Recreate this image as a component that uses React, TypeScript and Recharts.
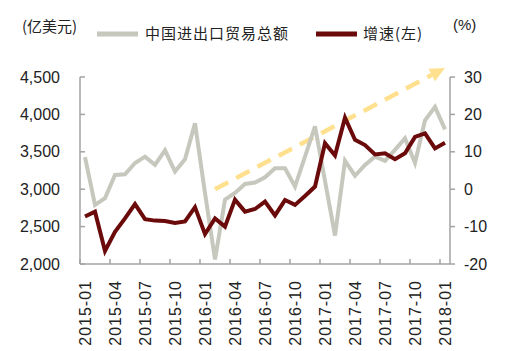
import React from 'react';
import { LineChart, Line, XAxis, YAxis, ReferenceLine } from 'recharts';

const months = [
  '2015-01', '2015-02', '2015-03', '2015-04', '2015-05', '2015-06', '2015-07', '2015-08', '2015-09',
  '2015-10', '2015-11', '2015-12', '2016-01', '2016-02', '2016-03', '2016-04', '2016-05', '2016-06',
  '2016-07', '2016-08', '2016-09', '2016-10', '2016-11', '2016-12', '2017-01', '2017-02', '2017-03',
  '2017-04', '2017-05', '2017-06', '2017-07', '2017-08', '2017-09', '2017-10', '2017-11', '2017-12',
  '2018-01',
];

// 中国进出口贸易总额 (亿美元)
const tradeTotal = [
  3430, 2790, 2880, 3190, 3200, 3350, 3435, 3325, 3520, 3235, 3400, 3880, 2950, 2060, 2860, 2950,
  3070, 3090, 3160, 3280, 3280, 3035, 3435, 3840, 3110, 2380, 3380, 3180, 3325, 3435, 3380, 3525,
  3680, 3350, 3920, 4100, 3800,
];

// 增速 (%)
const growthRate = [
  -7.3, -6.0, -16.5, -11.4, -7.8, -4.0, -8.0, -8.4, -8.5, -9.0, -8.6, -4.8, -12.0, -7.8, -10.0, -2.8,
  -6.0, -5.3, -3.3, -7.0, -2.9, -4.2, -1.8, 0.7, 12.3, 9.0, 19.1, 13.2, 11.8, 9.3, 9.6, 8.0, 9.6,
  14.0, 14.9, 10.9, 12.4,
];

const leftTicks = [2000, 2500, 3000, 3500, 4000, 4500];
const rightTicks = [-20, -10, 0, 10, 20, 30];

// trend arrow annotation
const trendStart = { month: '2016-02', value: 3000 };
const trendEnd = { month: '2018-01', value: 4620 };

const data = months.map((m, i) => ({ month: m, total: tradeTotal[i], growth: growthRate[i] }));

const GREY = '#c6c7bd';
const RED = '#6b0a0a';
const TREND = '#ffe08e';
const AXIS = '#a3a3a3';
const NUM_FONT = '"Liberation Sans", Arial, sans-serif';
const CJK_FONT = '"Noto Sans CJK SC", sans-serif';

const fmt = (v: number) => v.toLocaleString('en-US');

const LeftTick = ({ x, y, payload }: any) => (
  <g>
    <line x1={x} x2={x + 5} y1={y} y2={y} stroke={AXIS} strokeWidth={1.5} />
    <text x={x - 20} y={y} dy="0.35em" textAnchor="end" fontSize={16} fill="#222" fontFamily={NUM_FONT}>
      {fmt(payload.value)}
    </text>
  </g>
);

const RightTick = ({ x, y, payload }: any) => (
  <g>
    <line x1={x} x2={x + 5} y1={y} y2={y} stroke={AXIS} strokeWidth={1.5} />
    <text x={x + 14} y={y} dy="0.35em" textAnchor="start" fontSize={16} fill="#222" fontFamily={NUM_FONT}>
      {payload.value}
    </text>
  </g>
);

const MonthTick = ({ x, y, payload }: any) => (
  <g>
    <line x1={x - 5} x2={x - 5} y1={y} y2={y - 5} stroke={AXIS} strokeWidth={1.5} />
    <text
      transform={`translate(${x},${y + 16}) rotate(-90)`}
      textAnchor="end"
      dy="0.35em"
      fontSize={16}
      letterSpacing={1}
      fill="#222"
      fontFamily={NUM_FONT}
    >
      {payload.value}
    </text>
  </g>
);

const TrendArrow = (props: any) => {
  const { x1, y1, x2, y2 } = props;
  const ang = Math.atan2(y2 - y1, x2 - x1);
  const head = 15;
  const bx = x2 - head * Math.cos(ang);
  const by = y2 - head * Math.sin(ang);
  const px = -Math.sin(ang) * 7;
  const py = Math.cos(ang) * 7;
  return (
    <g>
      <line x1={x1} y1={y1} x2={bx} y2={by} stroke={TREND} strokeWidth={4.5} strokeDasharray="15 9" />
      <polygon points={`${x2},${y2} ${bx + px},${by + py} ${bx - px},${by - py}`} fill={TREND} />
    </g>
  );
};

const Header = () => (
  <svg width={508} height={60} style={{ position: 'absolute', left: 0, top: 0, pointerEvents: 'none' }}>
    <text x={22} y={27} dy="0.35em" fontSize={15} fill="#222" fontFamily={CJK_FONT}>(亿美元)</text>
    <line x1={97} x2={138} y1={34} y2={34} stroke={GREY} strokeWidth={5} />
    <text x={145} y={34} dy="0.35em" fontSize={15} letterSpacing={1} fill="#222" fontFamily={CJK_FONT}>
      中国进出口贸易总额
    </text>
    <line x1={316} x2={357} y1={34} y2={34} stroke={RED} strokeWidth={5} />
    <text x={363} y={34} dy="0.35em" fontSize={15} letterSpacing={1} fill="#222" fontFamily={CJK_FONT}>
      增速(左)
    </text>
    <text x={453} y={25} dy="0.35em" fontSize={15} fill="#222" fontFamily={NUM_FONT}>(%)</text>
  </svg>
);

export default function App() {
  return (
    <div style={{ position: 'absolute', left: 0, top: 0, width: 508, height: 351, background: '#fff' }}>
      <LineChart width={508} height={351} data={data} margin={{ top: 77, right: 0, bottom: 0, left: 0 }}>
        <XAxis
          dataKey="month"
          interval={2}
          height={87}
          padding={{ left: 5, right: 5 }}
          tickSize={0}
          tickMargin={0}
          tickLine={false}
          axisLine={{ stroke: AXIS, strokeWidth: 1.5 }}
          tick={<MonthTick />}
        />
        <YAxis
          yAxisId="left"
          width={80}
          domain={[2000, 4500]}
          ticks={leftTicks}
          tickSize={0}
          tickMargin={0}
          tickLine={false}
          axisLine={{ stroke: AXIS, strokeWidth: 1.5 }}
          tick={<LeftTick />}
        />
        <YAxis
          yAxisId="right"
          orientation="right"
          width={58}
          domain={[-20, 30]}
          ticks={rightTicks}
          tickSize={0}
          tickMargin={0}
          tickLine={false}
          axisLine={{ stroke: AXIS, strokeWidth: 1.5 }}
          tick={<RightTick />}
        />
        <ReferenceLine
          yAxisId="left"
          segment={[
            { x: trendStart.month, y: trendStart.value },
            { x: trendEnd.month, y: trendEnd.value },
          ]}
          ifOverflow="visible"
          shape={TrendArrow}
        />
        <Line
          yAxisId="left"
          dataKey="total"
          stroke={GREY}
          strokeWidth={4}
          dot={false}
          activeDot={false}
          isAnimationActive={false}
        />
        <Line
          yAxisId="right"
          dataKey="growth"
          stroke={RED}
          strokeWidth={4}
          dot={false}
          activeDot={false}
          isAnimationActive={false}
        />
      </LineChart>
      <Header />
    </div>
  );
}
